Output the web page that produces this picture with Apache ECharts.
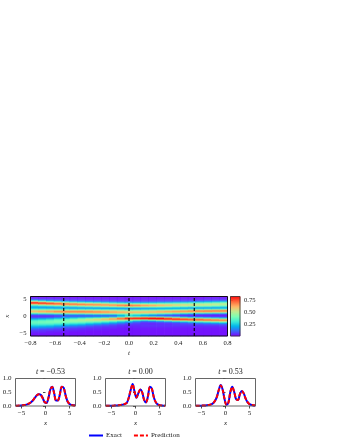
<!DOCTYPE html>
<html><head><meta charset="utf-8">
<style>html,body{margin:0;padding:0;background:#fff}#c{width:340px;height:440px}</style>
<script src="https://cdn.jsdelivr.net/npm/echarts@6/dist/echarts.min.js"></script>
</head><body><div id="c"></div>
<script>
// Heatmap columns: each is the density from x = +5.7 (top) to x = -5.7 (bottom), step 0.3
const heatTimes = [-0.8,-0.73,-0.67,-0.6,-0.53,-0.47,-0.4,-0.33,-0.27,-0.2,-0.13,-0.07,0,0.07,0.13,0.2,0.27,0.33,0.4,0.47,0.53,0.6,0.67,0.73,0.8];
const heatRows = [5.7,5.4,5.1,4.8,4.5,4.2,3.9,3.6,3.3,3.0,2.7,2.4,2.1,1.8,1.5,1.2,0.9,0.6,0.3,0,-0.3,-0.6,-0.9,-1.2,-1.5,-1.8,-2.1,-2.4,-2.7,-3.0,-3.3,-3.6,-3.9,-4.2,-4.5,-4.8,-5.1,-5.4,-5.7];
const col00 = [.02,.03,.06,.13,.32,.62,.82,.7,.45,.28,.2,.2,.3,.47,.6,.6,.45,.25,.1,.05,.06,.12,.2,.29,.36,.38,.37,.34,.29,.24,.19,.14,.1,.07,.05,.04,.03,.02,.02];
const col01 = [.02,.03,.05,.11,.26,.52,.77,.75,.52,.32,.2,.18,.29,.47,.62,.63,.48,.27,.1,.05,.06,.13,.22,.31,.38,.39,.38,.34,.29,.23,.18,.13,.09,.06,.05,.04,.03,.02,.02];
const col02 = [.02,.03,.05,.09,.2,.42,.7,.77,.58,.36,.21,.17,.28,.47,.63,.65,.5,.28,.11,.05,.07,.15,.25,.34,.39,.4,.38,.34,.28,.22,.17,.12,.08,.06,.04,.03,.03,.02,.02];
const col03 = [.02,.03,.04,.08,.17,.36,.63,.75,.63,.4,.23,.17,.26,.46,.64,.68,.53,.3,.12,.07,.1,.19,.3,.38,.41,.41,.37,.31,.25,.19,.14,.1,.07,.05,.04,.03,.02,.02,.02];
const col04 = [.02,.03,.04,.07,.14,.3,.55,.71,.66,.45,.25,.18,.25,.45,.64,.7,.56,.32,.13,.1,.14,.23,.34,.41,.43,.41,.36,.29,.22,.16,.11,.08,.06,.04,.03,.03,.02,.02,.02];
const col05 = [.02,.02,.04,.06,.12,.26,.5,.69,.68,.48,.27,.17,.24,.45,.65,.7,.57,.33,.14,.09,.15,.26,.38,.45,.45,.41,.34,.27,.2,.14,.1,.07,.05,.04,.03,.02,.02,.02,.02];
const col06 = [.02,.02,.04,.06,.11,.23,.45,.65,.7,.52,.3,.17,.24,.45,.65,.7,.58,.33,.14,.09,.16,.3,.43,.48,.46,.4,.33,.25,.18,.12,.09,.06,.05,.03,.03,.02,.02,.02,.02];
const col07 = [.02,.02,.03,.05,.1,.2,.41,.62,.69,.55,.33,.18,.23,.44,.64,.69,.6,.36,.15,.09,.18,.35,.5,.52,.46,.38,.29,.21,.15,.1,.07,.05,.04,.03,.02,.02,.02,.02,.02];
const col08 = [.02,.02,.03,.05,.09,.18,.37,.59,.68,.58,.36,.18,.22,.42,.62,.68,.62,.38,.16,.1,.2,.4,.55,.54,.46,.36,.26,.18,.12,.08,.06,.05,.04,.03,.02,.02,.02,.02,.02];
const col09 = [.02,.02,.03,.05,.08,.16,.33,.55,.67,.61,.39,.19,.21,.41,.6,.66,.62,.39,.17,.1,.22,.48,.61,.55,.43,.32,.22,.15,.1,.07,.05,.04,.03,.03,.02,.02,.02,.02,.02];
const col10 = [.02,.02,.03,.04,.07,.14,.29,.5,.66,.64,.43,.2,.2,.4,.58,.64,.61,.4,.17,.1,.25,.55,.66,.55,.4,.28,.19,.12,.08,.06,.05,.04,.03,.02,.02,.02,.02,.02,.02];
const col11 = [.02,.02,.03,.04,.06,.12,.26,.47,.66,.68,.47,.22,.17,.37,.55,.62,.61,.42,.24,.2,.36,.68,.71,.52,.35,.23,.15,.09,.06,.05,.04,.03,.03,.02,.02,.02,.02,.02,.02];
const col12 = [.02,.02,.03,.04,.06,.11,.24,.45,.66,.71,.5,.24,.14,.33,.52,.6,.6,.44,.3,.28,.45,.78,.75,.5,.3,.18,.11,.07,.05,.04,.03,.03,.02,.02,.02,.02,.02,.02,.02];
const col13 = [.02,.02,.03,.04,.06,.11,.23,.44,.64,.69,.49,.24,.15,.33,.52,.6,.59,.42,.26,.24,.48,.81,.74,.44,.23,.12,.08,.06,.05,.04,.04,.03,.03,.02,.02,.02,.02,.02,.02];
const col14 = [.02,.02,.03,.04,.06,.11,.23,.43,.62,.66,.48,.24,.17,.34,.53,.6,.58,.4,.22,.2,.52,.83,.74,.38,.17,.08,.05,.05,.05,.05,.04,.03,.03,.02,.02,.02,.02,.02,.02];
const col15 = [.02,.02,.03,.04,.06,.12,.24,.43,.6,.64,.46,.24,.18,.36,.55,.61,.57,.37,.18,.16,.47,.83,.79,.45,.2,.09,.05,.04,.05,.05,.04,.03,.03,.02,.02,.02,.02,.02,.02];
const col16 = [.02,.02,.03,.05,.07,.13,.26,.44,.59,.61,.44,.24,.2,.38,.58,.63,.55,.33,.14,.12,.42,.8,.82,.52,.25,.11,.06,.05,.05,.05,.04,.03,.03,.02,.02,.02,.02,.02,.02];
const col17 = [.02,.02,.03,.05,.07,.14,.27,.45,.58,.58,.41,.23,.21,.4,.6,.65,.52,.3,.11,.09,.36,.71,.82,.6,.31,.14,.07,.05,.05,.05,.04,.03,.03,.02,.02,.02,.02,.02,.02];
const col18 = [.02,.02,.03,.05,.08,.15,.29,.46,.57,.54,.38,.22,.22,.43,.63,.66,.5,.26,.09,.07,.3,.62,.81,.68,.39,.18,.08,.06,.06,.05,.04,.03,.03,.02,.02,.02,.02,.02,.02];
const col19 = [.02,.02,.03,.05,.08,.16,.3,.46,.56,.52,.36,.2,.24,.46,.66,.65,.46,.22,.07,.05,.24,.54,.78,.7,.43,.22,.1,.07,.06,.05,.04,.03,.03,.02,.02,.02,.02,.02,.02];
const col20 = [.02,.02,.03,.05,.09,.17,.32,.47,.55,.5,.33,.18,.26,.5,.69,.64,.42,.19,.06,.04,.18,.45,.74,.72,.48,.26,.13,.08,.06,.05,.04,.03,.03,.02,.02,.02,.02,.02,.02];
const col21 = [.02,.02,.03,.05,.1,.19,.34,.48,.54,.48,.31,.18,.26,.52,.71,.64,.4,.17,.05,.03,.15,.39,.69,.73,.51,.3,.15,.09,.06,.05,.04,.03,.03,.02,.02,.02,.02,.02,.02];
const col22 = [.02,.03,.04,.06,.11,.21,.36,.49,.53,.46,.3,.18,.27,.54,.72,.64,.38,.15,.05,.03,.12,.33,.63,.73,.55,.33,.18,.1,.07,.05,.04,.03,.03,.02,.02,.02,.02,.02,.02];
const col23 = [.02,.03,.04,.06,.12,.23,.38,.5,.51,.43,.28,.18,.28,.56,.72,.62,.35,.14,.04,.03,.1,.29,.57,.72,.58,.36,.2,.11,.07,.05,.04,.03,.03,.02,.02,.02,.02,.02,.02];
const col24 = [.02,.03,.04,.07,.14,.26,.41,.5,.49,.4,.27,.19,.3,.58,.72,.6,.33,.13,.04,.03,.09,.25,.52,.7,.6,.4,.22,.12,.08,.06,.04,.03,.03,.02,.02,.02,.02,.02,.02];
const heatColumns = [col00,col01,col02,col03,col04,col05,col06,col07,col08,col09,col10,col11,col12,col13,col14,col15,col16,col17,col18,col19,col20,col21,col22,col23,col24];
const sliceTimes = [-0.53,0,0.53];
const sliceTitles = ['\u22120.53','0.00','0.53'];

// Slice profiles
const profileX = [-6.2,-5.8,-5.4,-5,-4.6,-4.2,-3.8,-3.4,-3,-2.6,-2.2,-1.8,-1.4,-1,-0.6,-0.2,0.2,0.6,1,1.4,1.8,2.2,2.6,3,3.4,3.8,4.2,4.6,5,5.4,5.8,6.2];
const exactA = [.01,.01,.01,.02,.03,.04,.06,.09,.14,.21,.3,.39,.43,.41,.3,.14,.11,.28,.6,.7,.47,.2,.2,.43,.7,.66,.38,.16,.07,.04,.03,.02];
const predA  = [.01,.01,.02,.02,.03,.04,.06,.1,.14,.21,.31,.39,.43,.4,.29,.15,.12,.29,.6,.69,.46,.2,.21,.44,.7,.65,.37,.17,.08,.04,.02,.02];
const exactB = [.01,.01,.01,.01,.01,.02,.02,.03,.04,.05,.07,.12,.3,.58,.8,.52,.3,.47,.6,.5,.22,.13,.36,.7,.63,.33,.14,.06,.03,.02,.01,.01];
const predB  = [.01,.01,.01,.01,.01,.02,.02,.03,.04,.05,.08,.12,.31,.58,.79,.52,.31,.47,.6,.49,.22,.14,.36,.69,.63,.33,.15,.06,.03,.02,.01,.01];
const exactC = [.01,.01,.01,.01,.02,.02,.03,.04,.06,.1,.18,.33,.58,.76,.6,.25,.05,.12,.5,.7,.52,.25,.22,.43,.55,.46,.27,.14,.07,.04,.02,.02];
const predC  = [.01,.01,.01,.01,.02,.02,.03,.04,.06,.1,.19,.33,.58,.75,.6,.26,.04,.12,.5,.69,.52,.26,.22,.43,.55,.46,.27,.14,.07,.04,.03,.02];
const exactAll = [exactA,exactB,exactC], predAll = [predA,predB,predC];

const tickX = [-0.8,-0.6,-0.4,-0.2,0,0.2,0.4,0.6,0.8];
const tickPos = [-5,0,5];
const tickCbar = [0.25,0.5,0.75];
const tickY = [0,0.5,1];
const cbarMax = 0.83;

const rainbow = ['#8000ff','#4062fa','#00b5eb','#40ecd4','#80ffb4','#c0eb8d','#ffb360','#ff6230','#ff0000'];
const font = '"Liberation Serif", serif';
const ink = '#222';
const num = v => (v < 0 ? '\u2212' : '') + Math.abs(v);
function fmt(dec){ return v => (v<0?'\u2212':'') + Math.abs(v).toFixed(dec); }

const grids = [], xAxes = [], yAxes = [], series = [], titles = [];
const box = {left:30.5, top:296.5, width:197, height:39.5, outerBoundsMode:'none'};

function hiddenCat(gridIndex, data, extra){
  return Object.assign({type:'category', gridIndex, data, show:false}, extra||{});
}
// Grid 0: heatmap cells. Grid 1: value axes on the same rectangle
grids.push(Object.assign({}, box, {show:false}));
grids.push(Object.assign({}, box, {show:true, z:10, backgroundColor:'transparent', borderColor:'#000', borderWidth:0.9}));
xAxes.push(hiddenCat(0, heatTimes));
yAxes.push(hiddenCat(0, heatRows, {inverse:true}));
xAxes.push({type:'value', gridIndex:1, min:-0.8, max:0.8, name:'t',
  nameLocation:'middle', nameGap:14, nameTextStyle:{fontFamily:font, fontStyle:'italic', fontSize:7, color:ink},
  axisLine:{show:false}, splitLine:{show:false},
  axisTick:{show:true, length:2.5, customValues:tickX, lineStyle:{color:'#000', width:0.7}},
  axisLabel:{show:true, customValues:tickX, formatter:fmt(1), fontFamily:font, fontSize:6.6, color:ink, margin:4, hideOverlap:false}});
yAxes.push({type:'value', gridIndex:1, min:-5.85, max:5.85, name:'x',
  nameLocation:'middle', nameGap:20, nameMoveOverlap:false, nameTextStyle:{fontFamily:font, fontStyle:'italic', fontSize:7, color:ink},
  axisLine:{show:false}, splitLine:{show:false},
  axisTick:{show:true, length:2.5, customValues:tickPos, lineStyle:{color:'#000', width:0.7}},
  axisLabel:{show:true, customValues:tickPos, formatter:num, fontFamily:font, fontSize:6.6, color:ink, margin:4}});

const heatData = [];
heatColumns.forEach((c,i)=>c.forEach((v,j)=>heatData.push([i,j,v])));
series.push({type:'heatmap', xAxisIndex:0, yAxisIndex:0, data:heatData, progressive:0, silent:true, itemStyle:{borderWidth:0}});
sliceTimes.forEach(t=>series.push({type:'line', xAxisIndex:1, yAxisIndex:1, data:[[t,-5.85],[t,5.85]], symbol:'none', silent:true, z:5,
  lineStyle:{color:'#000', width:1.1, type:[3,2]}}));

// Grid 2: colourbar cells. Grid 3: its value axis
const cbox = {left:230.5, top:296.5, width:9.5, height:39.5, outerBoundsMode:'none'};
const cbarLevels = []; for(let k=0;k<40;k++) cbarLevels.push((k+0.5)/40*cbarMax);
grids.push(Object.assign({}, cbox, {show:false}));
grids.push(Object.assign({}, cbox, {show:true, z:10, backgroundColor:'transparent', borderColor:'#333', borderWidth:0.8}));
xAxes.push(hiddenCat(2, ['c']));
yAxes.push(hiddenCat(2, cbarLevels));
xAxes.push({type:'value', gridIndex:3, min:0, max:1, show:false});
yAxes.push({type:'value', gridIndex:3, position:'right', min:0, max:cbarMax,
  axisLine:{show:false}, splitLine:{show:false},
  axisTick:{show:true, length:2.5, customValues:tickCbar, lineStyle:{color:'#000', width:0.7}},
  axisLabel:{show:true, customValues:tickCbar, formatter:fmt(2), fontFamily:font, fontSize:6.6, color:ink, margin:4}});
series.push({type:'heatmap', xAxisIndex:2, yAxisIndex:2, data:cbarLevels.map((v,i)=>[0,i,v]), progressive:0, silent:true});

// Slice panels
const lefts = [15.5,105.5,195.5];
lefts.forEach((left,p)=>{
  const g = grids.length;
  grids.push({left, top:378.5, width:60, height:27.5, outerBoundsMode:'none', show:true, z:10, backgroundColor:'transparent', borderColor:'#555', borderWidth:0.9});
  xAxes.push({type:'value', gridIndex:g, min:-6.25, max:6.25, name:'x',
    nameLocation:'middle', nameGap:14, nameTextStyle:{fontFamily:font, fontStyle:'italic', fontSize:7, color:ink},
    axisLine:{show:false}, splitLine:{show:false},
    axisTick:{show:true, length:2.5, customValues:tickPos, lineStyle:{color:'#000', width:0.7}},
    axisLabel:{show:true, customValues:tickPos, formatter:num, fontFamily:font, fontSize:7, color:ink, margin:4}});
  yAxes.push({type:'value', gridIndex:g, min:0, max:1,
    axisLine:{show:false}, splitLine:{show:false},
    axisTick:{show:true, length:2.5, customValues:tickY, lineStyle:{color:'#000', width:0.7}},
    axisLabel:{show:true, customValues:tickY, formatter:fmt(1), fontFamily:font, fontSize:7, color:ink, margin:4}});
  series.push({name:'Exact', type:'line', xAxisIndex:g, yAxisIndex:g, smooth:0.35, symbol:'none', silent:true,
    data:profileX.map((x,i)=>[x,exactAll[p][i]]), lineStyle:{color:'#0000ff', width:2}, itemStyle:{color:'#0000ff'}});
  series.push({name:'Prediction', type:'line', xAxisIndex:g, yAxisIndex:g, smooth:0.35, symbol:'none', silent:true,
    data:profileX.map((x,i)=>[x,predAll[p][i]]), lineStyle:{color:'#ff0000', width:2, type:[4,2]}, itemStyle:{color:'#ff0000'}});
  titles.push({text:'{i|t} = '+sliceTitles[p], left:left+30, top:363, textAlign:'center',
    textStyle:{fontFamily:font, fontSize:8, fontWeight:'normal', color:ink, rich:{i:{fontFamily:font, fontStyle:'italic', fontSize:8, color:ink}}}});
});

const chart = echarts.init(document.getElementById('c'), null, {renderer:'canvas'});
chart.setOption({
  animation:false, backgroundColor:'#fff',
  title:titles, grid:grids, xAxis:xAxes, yAxis:yAxes, series,
  tooltip:{show:false},
  visualMap:{show:false, type:'continuous', min:0, max:cbarMax, seriesIndex:[0,4], inRange:{color:rainbow}},
  legend:{data:['Exact','Prediction'], left:83, top:432, padding:[0,5,0,5], itemWidth:14, itemHeight:6, itemGap:11, selectedMode:false,
    itemStyle:{opacity:0},
    textStyle:{fontFamily:font, fontSize:7, color:ink, padding:[0,0,0,-2]}}
});
</script></body></html>
